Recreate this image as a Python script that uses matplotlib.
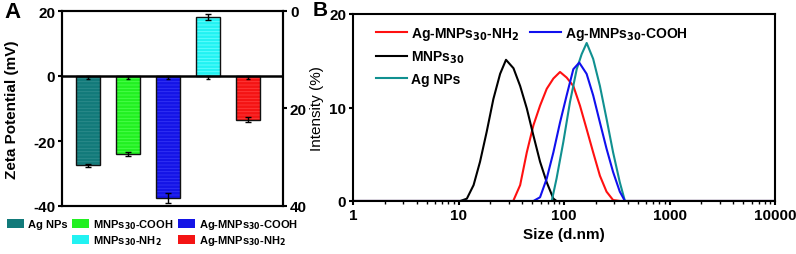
import matplotlib.pyplot as plt
from matplotlib.patches import Patch
from matplotlib.lines import Line2D

plt.rcParams['font.family'] = ['Liberation Sans', 'DejaVu Sans']
plt.rcParams['font.weight'] = 'bold'
plt.rcParams['font.size'] = 9
plt.rcParams['hatch.linewidth'] = 0.6
plt.rcParams['axes.unicode_minus'] = False

# panel A: zeta potential
samples = ['Ag NPs', 'MNPs$_{30}$-COOH', 'Ag-MNPs$_{30}$-COOH', 'MNPs$_{30}$-NH$_2$', 'Ag-MNPs$_{30}$-NH$_2$']
zeta = [-27.5, -24.0, -37.5, 18.2, -13.5]
zeta_err = [0.4, 0.7, 1.5, 0.9, 0.8]
bar_colors = ['#127a7a', '#22f022', '#1414e6', '#22f2f2', '#f41414']
hatch_colors = ['#2e8c8c', '#4cff4c', '#3434f4', '#66ffff', '#ff3c3c']

# panel B: DLS size distributions
size_mnps = [1, 10.4, 12.0, 13.9, 16.0, 18.5, 21.4, 24.8, 28.2, 33.2, 38.4, 44.4, 51.3, 59.3, 68.6, 79.3, 85, 10000]
int_mnps = [0, 0, 0.25, 1.7, 4.2, 7.4, 10.9, 13.6, 15.1, 14.2, 12.3, 9.9, 7.0, 4.2, 2.0, 0.25, 0, 0]
size_nh2 = [1, 33, 38.4, 44.4, 51.3, 59.3, 68.6, 79.3, 91.7, 106, 122.6, 141.7, 163.8, 189, 219, 253, 292, 340, 10000]
int_nh2 = [0, 0, 1.7, 5.2, 8.1, 10.2, 12.0, 13.1, 13.8, 13.2, 12.3, 10.2, 7.7, 5.2, 2.7, 1.0, 0.1, 0, 0]
size_cooh = [1, 51.3, 59.3, 68.6, 79.3, 91.7, 106, 122.6, 139.5, 163.8, 189, 219, 253, 292, 338, 378, 10000]
int_cooh = [0, 0, 0.4, 2.4, 5.2, 8.4, 11.3, 14.1, 14.8, 13.6, 11.3, 8.4, 5.6, 3.1, 1.0, 0, 0]
size_ag = [1, 76.5, 85, 98.5, 114, 132, 147, 164, 189, 219, 253, 292, 338, 378, 10000]
int_ag = [0, 0, 2.4, 6.3, 10.6, 14.1, 15.7, 16.9, 15.2, 12.3, 8.8, 5.2, 2.0, 0, 0]

fig = plt.figure(figsize=(7.96, 2.55), dpi=100)

# ---- A ----
axA = fig.add_axes([62/796, 1 - 207/255, 221/796, 195/255])
x = range(1, len(zeta) + 1)
axA.bar(x, zeta, width=0.6, color=bar_colors, hatch='-----', edgecolor=hatch_colors, linewidth=0, zorder=2)
axA.bar(x, zeta, width=0.6, fill=False, edgecolor='#111111', linewidth=1.0, zorder=3)
axA.errorbar(x, zeta, yerr=zeta_err, fmt='none', ecolor='black', elinewidth=1, capsize=2, zorder=4)
axA.errorbar(x, [0] * len(zeta), yerr=[[1] * len(zeta), [0] * len(zeta)], fmt='none',
             ecolor='black', elinewidth=1, capsize=1.5, zorder=4)
axA.axhline(0, color='black', linewidth=1.8, zorder=5)
axA.set_xlim(0.35, 5.88)
axA.set_ylim(-40, 20)
axA.set_yticks([-40, -20, 0, 20])
axA.set_xticks([])
axA.set_ylabel('Zeta Potential (mV)', fontsize=11, fontweight='bold', labelpad=10)
axA.tick_params(axis='y', direction='out', width=1.5, length=3, labelsize=11, pad=2)
axA2 = axA.twinx()
axA2.set_ylim(40, 0)
axA2.set_yticks([0, 20, 40])
axA2.tick_params(axis='y', direction='out', width=1.5, length=3, labelsize=11, pad=2)
for ax in (axA, axA2):
    for s in ax.spines.values():
        s.set_linewidth(1.5)

handles = [Patch(facecolor=bar_colors[0], label=samples[0]),
           Patch(visible=False, label=' '),
           Patch(facecolor=bar_colors[1], label=samples[1]),
           Patch(facecolor=bar_colors[3], label=samples[3]),
           Patch(facecolor=bar_colors[2], label=samples[2]),
           Patch(facecolor=bar_colors[4], label=samples[4])]
fig.legend(handles=handles, ncol=3, loc='upper left', bbox_to_anchor=(7/796, 1 - 218/255),
           frameon=False, fontsize=8, handlelength=1.5, handleheight=0.9,
           handletextpad=0.35, columnspacing=0.45, labelspacing=0.2, borderaxespad=0,
           borderpad=0)

fig.text(4/796, 1 - 2/255, 'A', fontsize=16, fontweight='bold', va='top')
fig.text(313/796, 1 - 1/255, 'B', fontsize=15, fontweight='bold', va='top')

# ---- B ----
axB = fig.add_axes([353/796, 1 - 202/255, 422/796, 187/255])
axB.plot(size_nh2, int_nh2, color='#ff1010', lw=1.5, label='Ag-MNPs$_{30}$-NH$_2$')
axB.plot(size_mnps, int_mnps, color='black', lw=1.5, label='MNPs$_{30}$')
axB.plot(size_ag, int_ag, color='#109090', lw=1.5, label='Ag NPs')
axB.plot(size_cooh, int_cooh, color='#1010ee', lw=1.5, label='Ag-MNPs$_{30}$-COOH')
axB.set_xscale('log')
axB.set_xlim(1, 10000)
axB.set_ylim(0, 20)
axB.set_yticks([0, 10, 20])
axB.set_xticks([1, 10, 100, 1000, 10000])
axB.set_xticklabels(['1', '10', '100', '1000', '10000'])
axB.tick_params(which='both', direction='out', width=1.5, labelsize=11, pad=2)
axB.tick_params(which='major', length=3)
axB.tick_params(which='minor', length=2, width=1)
axB.set_xlabel('Size (d.nm)', fontsize=11, fontweight='bold', labelpad=4)
axB.set_ylabel('Intensity (%)', fontsize=11, fontweight='normal', labelpad=4)
for s in axB.spines.values():
    s.set_linewidth(1.5)
h, l = axB.get_legend_handles_labels()
blank = Line2D([], [], visible=False)
h = [h[0], h[1], h[2], h[3], blank, blank]
l = [l[0], l[1], l[2], l[3], '', '']
axB.legend(h, l, ncol=2, loc='upper left', bbox_to_anchor=(0.025, 1.01), frameon=False,
           fontsize=10, handlelength=2.2, handletextpad=0.3, columnspacing=0.8, labelspacing=0.5)

fig.savefig('out.png', dpi=100)
